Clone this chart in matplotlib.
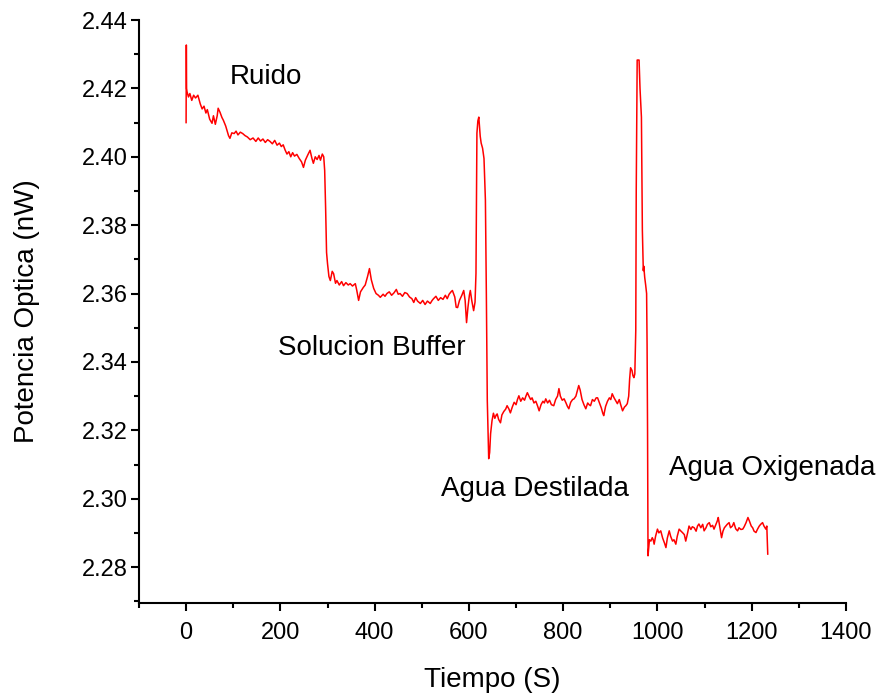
import matplotlib
matplotlib.use("Agg")
import matplotlib.pyplot as plt
from matplotlib.ticker import MultipleLocator

plt.rcParams['font.family'] = ['Liberation Sans', 'DejaVu Sans']

# values (time in s, power in nW)
ruido_t = [0, 0.5, 1, 2, 5, 8, 12, 16, 20, 25, 30, 34, 38, 42, 45, 50, 55, 58, 62, 66,
           68, 72, 76, 79, 84, 90, 93, 97, 102, 106, 110, 115, 120, 125, 130, 136, 142,
           148, 153, 158, 163, 168, 173, 178, 183, 188, 193, 198, 202, 206, 210, 214,
           218, 222, 226, 230, 235, 240, 245, 249, 253, 258, 263, 267, 270, 274, 278,
           282, 285, 289, 292, 294, 296, 298]
ruido_p = [2.410, 2.4327, 2.420, 2.419, 2.4175, 2.4185, 2.4165, 2.418, 2.4172, 2.418,
           2.4155, 2.414, 2.4148, 2.4128, 2.4138, 2.411, 2.4098, 2.412, 2.4095, 2.412,
           2.4142, 2.413, 2.4115, 2.4107, 2.409, 2.4062, 2.4054, 2.407, 2.4068, 2.4075,
           2.4064, 2.4072, 2.4068, 2.4062, 2.4058, 2.405, 2.4055, 2.4045, 2.4055, 2.4046,
           2.4052, 2.4042, 2.405, 2.4045, 2.4038, 2.4048, 2.4034, 2.404, 2.403, 2.4035,
           2.402, 2.4008, 2.4015, 2.400, 2.4012, 2.4002, 2.4007, 2.3995, 2.3985, 2.3969,
           2.399, 2.4005, 2.4019, 2.3995, 2.3981, 2.400, 2.3992, 2.4004, 2.399, 2.4008,
           2.400, 2.396, 2.385, 2.372]

buffer_t = [300, 303, 306, 310, 313, 317, 320, 325, 330, 334, 339, 344, 348, 353, 359,
            362, 366, 370, 376, 380, 385, 389, 393, 398, 403, 408, 412, 418, 422, 426,
            431, 436, 441, 446, 450, 454, 459, 464, 469, 474, 479, 483, 487, 491, 497,
            502, 507, 512, 518, 522, 525, 530, 535, 540, 545, 550, 554, 558, 562, 565,
            570, 573, 576, 580, 585, 589, 592, 595, 598, 601, 603, 606, 610, 613, 615,
            617, 619, 621, 624, 626, 629, 632, 635, 637, 639, 642, 644, 646, 649]
buffer_p = [2.3688, 2.365, 2.3638, 2.3665, 2.3658, 2.363, 2.3638, 2.3625, 2.3635, 2.3623,
            2.3632, 2.3625, 2.3629, 2.3622, 2.3629, 2.361, 2.358, 2.3605, 2.3618, 2.3625,
            2.365, 2.3673, 2.364, 2.3615, 2.360, 2.3595, 2.3589, 2.3598, 2.3592, 2.360,
            2.3605, 2.3595, 2.3602, 2.3612, 2.3598, 2.360, 2.3592, 2.3603, 2.360, 2.359,
            2.3585, 2.3574, 2.3588, 2.3578, 2.3571, 2.358, 2.3568, 2.3578, 2.3571, 2.358,
            2.3585, 2.3592, 2.358, 2.3588, 2.3583, 2.3595, 2.3585, 2.3598, 2.3605, 2.3609,
            2.359, 2.356, 2.3559, 2.358, 2.3595, 2.3609, 2.358, 2.3515, 2.356, 2.3595,
            2.3609, 2.358, 2.355, 2.3575, 2.3659, 2.4069, 2.4105, 2.4116, 2.406, 2.404,
            2.4025, 2.3995, 2.3873, 2.360, 2.3287, 2.3117, 2.3135, 2.319, 2.3228]

destilada_t = [652, 655, 658, 660, 663, 667, 670, 674, 678, 681, 685, 688, 692, 696, 700,
               703, 706, 710, 714, 718, 721, 724, 728, 731, 734, 738, 742, 746, 749, 753,
               757, 760, 763, 767, 771, 775, 780, 784, 788, 791, 794, 798, 802, 806, 809,
               812, 816, 820, 823, 827, 830, 833, 836, 840, 844, 848, 852, 855, 858, 862,
               866, 870, 873, 877, 881, 884, 886, 890, 894, 898, 901, 904, 908, 912, 915,
               919, 922, 926, 930, 933, 936, 939, 941, 943, 946, 948, 950, 952, 954, 955,
               957, 961, 963, 966, 968, 970, 971, 973, 975, 977, 978, 979, 980]
destilada_p = [2.325, 2.3235, 2.3245, 2.3248, 2.3232, 2.3222, 2.3245, 2.3255, 2.3262,
               2.3272, 2.3262, 2.3251, 2.3268, 2.3282, 2.3275, 2.329, 2.3301, 2.3285,
               2.3295, 2.3288, 2.330, 2.331, 2.3298, 2.329, 2.3295, 2.328, 2.3285, 2.327,
               2.3257, 2.3275, 2.3285, 2.328, 2.3292, 2.328, 2.3288, 2.3275, 2.3272, 2.329,
               2.330, 2.3322, 2.330, 2.3288, 2.3292, 2.328, 2.327, 2.3263, 2.3282, 2.329,
               2.3292, 2.330, 2.3315, 2.3331, 2.3318, 2.329, 2.3275, 2.3263, 2.328, 2.3275,
               2.3272, 2.329, 2.3285, 2.3295, 2.3295, 2.328, 2.3265, 2.325, 2.3243, 2.327,
               2.3285, 2.3295, 2.329, 2.3307, 2.3295, 2.3285, 2.3278, 2.329, 2.3275, 2.3257,
               2.3268, 2.3272, 2.3278, 2.330, 2.335, 2.3383, 2.3375, 2.336, 2.3354, 2.3365,
               2.3492, 2.390, 2.4283, 2.4283, 2.420, 2.4116, 2.3785, 2.3667, 2.368, 2.3647,
               2.3625, 2.360, 2.345, 2.320, 2.2833]

oxigenada_t = [983, 986, 989, 991, 993, 996, 1000, 1003, 1007, 1011, 1015, 1018, 1021,
               1025, 1028, 1032, 1035, 1039, 1042, 1046, 1050, 1053, 1057, 1060, 1064,
               1067, 1071, 1074, 1078, 1082, 1085, 1088, 1092, 1096, 1099, 1103, 1106,
               1110, 1113, 1117, 1120, 1124, 1127, 1129, 1132, 1136, 1139, 1142, 1145,
               1148, 1152, 1155, 1159, 1162, 1166, 1170, 1173, 1177, 1181, 1184, 1188,
               1192, 1195, 1199, 1202, 1205, 1209, 1212, 1216, 1219, 1223, 1226, 1230,
               1232, 1234]
oxigenada_p = [2.288, 2.2876, 2.2886, 2.288, 2.2867, 2.289, 2.2911, 2.290, 2.2906, 2.2885,
               2.287, 2.2857, 2.2885, 2.2906, 2.289, 2.2876, 2.288, 2.2867, 2.289, 2.2911,
               2.2905, 2.2901, 2.2895, 2.2876, 2.290, 2.292, 2.291, 2.2918, 2.2915, 2.2905,
               2.292, 2.2926, 2.2915, 2.2925, 2.2906, 2.2915, 2.2925, 2.293, 2.2918, 2.2922,
               2.2911, 2.2925, 2.2935, 2.2945, 2.292, 2.2886, 2.2905, 2.2915, 2.292, 2.2925,
               2.293, 2.2915, 2.292, 2.293, 2.2912, 2.2906, 2.2915, 2.291, 2.2911, 2.2918,
               2.293, 2.2945, 2.2935, 2.292, 2.2915, 2.2905, 2.2901, 2.291, 2.292, 2.2925,
               2.293, 2.292, 2.2911, 2.292, 2.2838]

labels = ['Ruido', 'Solucion Buffer', 'Agua Destilada', 'Agua Oxigenada']
label_t = [93, 195, 541, 1025]
label_p = [2.4233, 2.3442, 2.3029, 2.3090]

time = ruido_t + buffer_t + destilada_t + oxigenada_t
power = ruido_p + buffer_p + destilada_p + oxigenada_p

fig = plt.figure(figsize=(8.84, 6.93), dpi=100)
ax = fig.add_axes([0.1572, 0.1299, 0.7998, 0.8412])
ax.plot(time, power, color='#ff0000', lw=1.1)

for txt, t, p in zip(labels, label_t, label_p):
    ax.text(t, p, txt, fontsize=20, ha='left', va='center')

ax.set_xlim(-100, 1400)
ax.set_ylim(2.2695, 2.44)
ax.xaxis.set_major_locator(MultipleLocator(200))
ax.xaxis.set_minor_locator(MultipleLocator(100))
ax.yaxis.set_major_locator(MultipleLocator(0.02))
ax.yaxis.set_minor_locator(MultipleLocator(0.01))
ax.yaxis.set_major_formatter(matplotlib.ticker.FormatStrFormatter('%.2f'))

for side in ['top', 'right']:
    ax.spines[side].set_visible(False)
for side in ['left', 'bottom']:
    ax.spines[side].set_linewidth(1.5)

ax.tick_params(which='major', direction='out', length=6, width=1.5, labelsize=17)
ax.tick_params(which='minor', direction='out', length=3.5, width=1.5)
ax.tick_params(axis='y', pad=2)
ax.tick_params(axis='x', pad=8)

ax.set_xlabel('Tiempo (S)', fontsize=20, labelpad=16)
ax.set_ylabel('Potencia Optica (nW)', fontsize=20, labelpad=30)

fig.savefig('out.png', dpi=100)
